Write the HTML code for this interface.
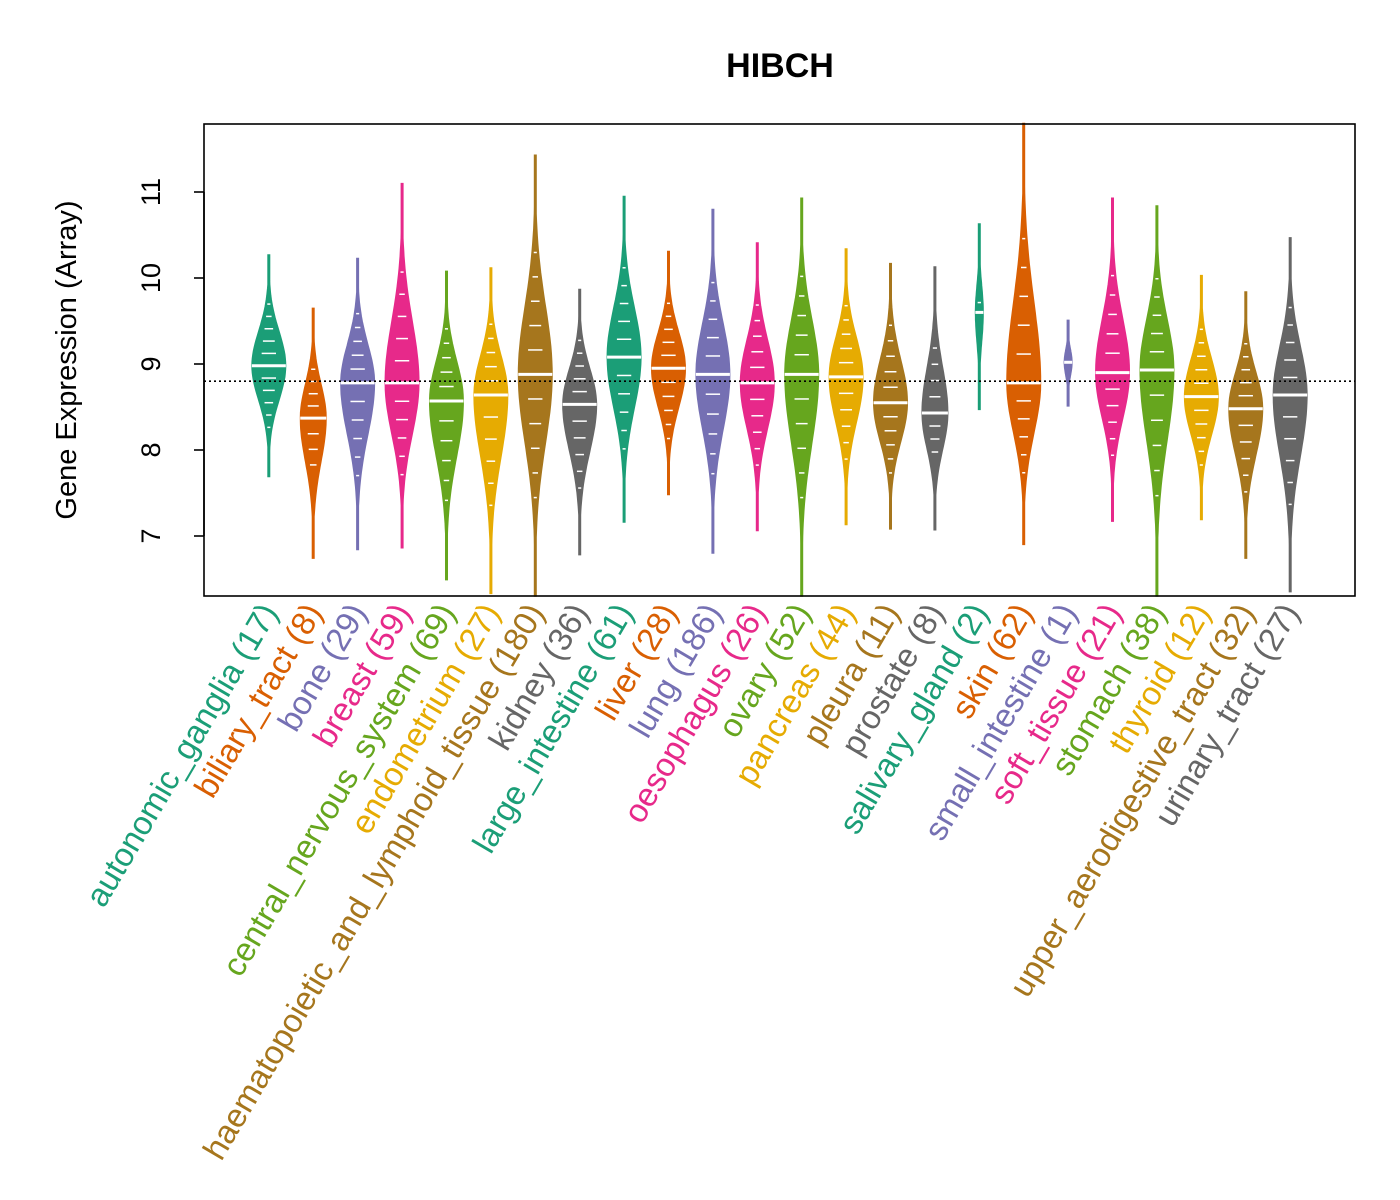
<!DOCTYPE html>
<html><head><meta charset="utf-8"><style>body{margin:0;background:#fff}svg{display:block}text{font-family:"Liberation Sans",sans-serif}</style></head>
<body>
<svg id="chart" width="1400" height="1200">
<text x="780" y="77" text-anchor="middle" font-size="34" font-weight="bold">HIBCH</text>
<text transform="translate(76,360) rotate(-90)" text-anchor="middle" font-size="29">Gene Expression (Array)</text>
<g id="yaxis"></g>
<g id="violins"></g>
<line id="ref" x1="204" x2="1355" stroke="#000" stroke-width="1.6" stroke-dasharray="2,3"/>
<rect x="204" y="124" width="1151" height="472" fill="none" stroke="#000" stroke-width="1.6"/>
<g id="labels"></g>
</svg>
<script>
const categories=["autonomic_ganglia","biliary_tract","bone","breast","central_nervous_system","endometrium","haematopoietic_and_lymphoid_tissue","kidney","large_intestine","liver","lung","oesophagus","ovary","pancreas","pleura","prostate","salivary_gland","skin","small_intestine","soft_tissue","stomach","thyroid","upper_aerodigestive_tract","urinary_tract"];
const counts=[17,8,29,59,69,27,180,36,61,28,186,26,52,44,11,8,2,62,1,21,38,12,32,27];
const maxVals=[10.27,9.65,10.23,11.1,10.08,10.12,11.43,9.87,10.95,10.31,10.8,10.41,10.93,10.34,10.17,10.13,10.63,11.8,9.51,10.93,10.84,10.03,9.84,10.47];
const minVals=[7.69,6.74,6.84,6.86,6.49,6.33,6.3,6.78,7.16,7.48,6.8,7.06,6.3,7.13,7.08,7.07,8.47,6.9,8.51,7.17,6.3,7.19,6.74,6.35];
const medians=[8.98,8.37,8.78,8.78,8.57,8.64,8.88,8.53,9.08,8.95,8.88,8.78,8.88,8.85,8.55,8.43,9.6,8.78,9.02,8.9,8.93,8.62,8.48,8.64];
const overallMedian=8.8;
const yTicks=[7,8,9,10,11];
const colors=["#1B9E77","#D95F02","#7570B3","#E7298A","#66A61E","#E6AB02","#A6761D","#666666"];
const NS="http://www.w3.org/2000/svg";
const X0=204,W=1151,lo=0.5-0.96,hi=24.5+0.96;
const xs=i=>X0+(i+1-lo)/(hi-lo)*W;
const ys=v=>192+(11-v)*86;
function mk(t,a,p){const e=document.createElementNS(NS,t);for(const k in a)e.setAttribute(k,a[k]);p.appendChild(e);return e;}
const ya=document.getElementById('yaxis');
yTicks.forEach(t=>{
  const l=mk('line',{x1:194,x2:204,y1:ys(t),y2:ys(t),stroke:'#000','stroke-width':1.6},ya);
  
  
  const tx=mk('text',{transform:`translate(160,${ys(t)}) rotate(-90)`,'text-anchor':'middle','font-size':27},ya);
  tx.textContent=t;
  
  
});
mk('line',{x1:204,x2:204,y1:ys(11),y2:ys(7),stroke:'#000','stroke-width':1.6},ya);
const r=document.getElementById('ref');r.setAttribute('y1',ys(overallMedian));r.setAttribute('y2',ys(overallMedian));
const vg=document.getElementById('violins'),lg=document.getElementById('labels');
categories.forEach((c,i)=>{
  const col=colors[i%8],cx=xs(i),mx=maxVals[i],mn=minVals[i],md=medians[i];
  const hw=counts[i]<3?4:(counts[i]<10?13:17);
  const su=(mx-md)/2.0,sd=(md-mn)/2.0;
  const N=60,L=[],R=[];
  for(let k=0;k<=N;k++){
    const v=mn+(mx-mn)*k/N;
    const z=v>=md?(v-md)/su:(md-v)/sd;
    const w=Math.max(1,hw*Math.exp(-z*z*1.3));
    R.push([cx+w,ys(v)]);L.unshift([cx-w,ys(v)]);
  }
  const pts=R.concat(L).map(p=>p[0].toFixed(1)+','+p[1].toFixed(1)).join(' ');
  const g=mk('g',{},vg);
  
  
  mk('polygon',{points:pts,fill:col,stroke:col,'stroke-width':1},g);
  for(let k=1;k<Math.min(counts[i],14);k++){
    const v=md+(k%2?1:-1)*Math.ceil(k/2)*(k%2?(mx-md):(md-mn))/9;
    const z=v>=md?(v-md)/su:(md-v)/sd;const w=hw*Math.exp(-z*z*1.3)*0.45;
    if(w>1.5)mk('line',{x1:cx-w,x2:cx+w,y1:ys(v),y2:ys(v),stroke:'#fff','stroke-width':1.5},g);
  }
  const ml=mk('line',{x1:cx-hw,x2:cx+hw,y1:ys(md),y2:ys(md),stroke:'#fff','stroke-width':3},g);
  
  
  const t=mk('text',{transform:`translate(${cx+10},${612}) rotate(-59.5)`,'text-anchor':'end','font-size':33,fill:col},lg);
  t.textContent=c+' ('+counts[i]+')';
  
  
});
</script>
</body></html>
